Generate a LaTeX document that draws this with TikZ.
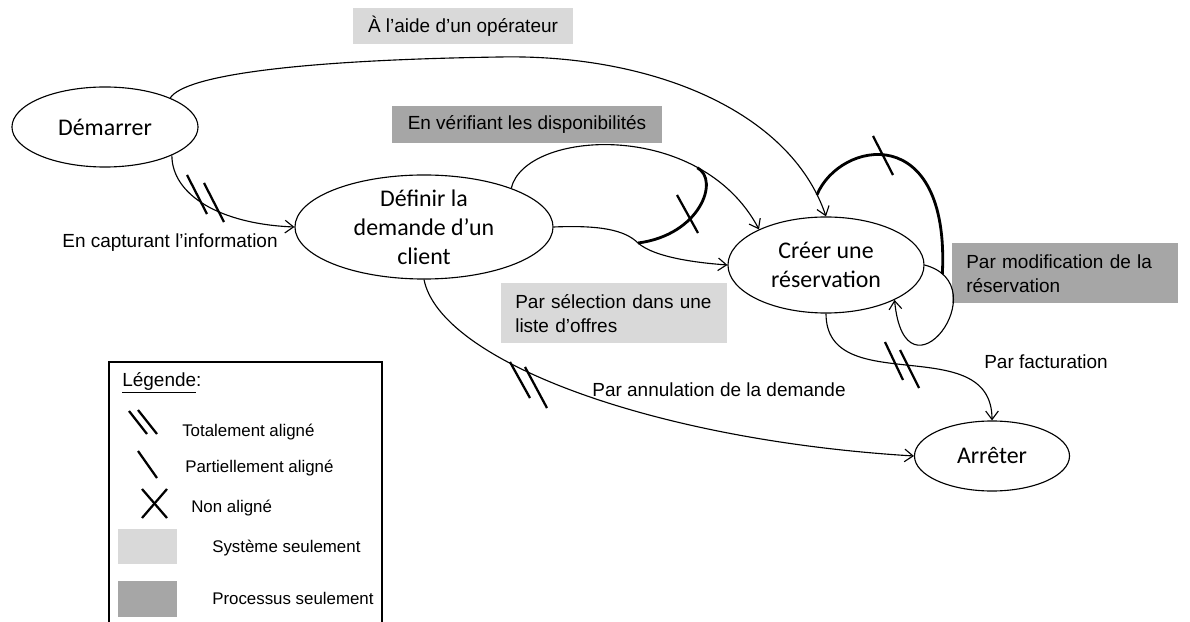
\documentclass[tikz,border=0pt]{standalone}
\usepackage{fontspec}
\setmainfont{Liberation Sans}
\newfontfamily\calibri{Carlito}
\usetikzlibrary{shapes.geometric,arrows.meta}
\definecolor{gsys}{HTML}{D9D9D9}
\definecolor{gproc}{HTML}{A6A6A6}

\begin{document}
\begin{tikzpicture}[x=0.025cm,y=-0.025cm,
        etat/.style={draw=black,ellipse,line width=0.8pt,inner sep=0pt,align=center,font=\calibri\fontsize{17}{20.5}\selectfont},
        sys/.style={fill=gsys,inner sep=0pt,font=\fontsize{13.5}{17}\selectfont},
        proc/.style={fill=gproc,inner sep=0pt,font=\fontsize{13.5}{17}\selectfont},
        lbl/.style={inner sep=0pt,font=\fontsize{13.5}{17}\selectfont},
        leg/.style={inner sep=0pt,anchor=west,font=\fontsize{12}{14}\selectfont},
        fl/.style={line width=0.8pt,-{Straight Barb[length=6pt,width=9pt]}},
        epais/.style={line width=2pt},
        marque/.style={line width=1.6pt}
      ]
      \useasboundingbox (0,0) rectangle (1190,622);
      \node[etat,minimum width=4.65cm,minimum height=2cm] (dem) at (105,127) {Démarrer};
      \node[etat,minimum width=6.45cm,minimum height=2.6cm,inner ysep=-4pt] (def) at (424,227) {Définir la\\demande d’un\\client};
      \node[etat,minimum width=4.9cm,minimum height=2.4cm] (cre) at (826,265) {Créer une\\réservation};
      \node[etat,minimum width=3.875cm,minimum height=1.75cm] (arr) at (992,456) {Arrêter};

      \node[sys,minimum width=5.5cm,minimum height=0.9cm] (aide) at (463,26) {À l’aide d’un opérateur};
      \node[proc,minimum width=6.75cm,minimum height=0.925cm] (verif) at (527,124.5) {En vérifiant les disponibilités};
      \node[sys,anchor=north west,text width=4.95cm,inner xsep=0.35cm,minimum height=1.5cm,align=left] (selec) at (501,283) {Par sélection dans une\\liste d’offres};
      \node[proc,anchor=north west,text width=4.95cm,inner xsep=0.35cm,minimum height=1.5cm,align=left] (modif) at (952,243) {Par modification de la\\réservation};
      \node[lbl] (capt) at (170,243) {En capturant l’information};
      \node[lbl] (annul) at (719,390) {Par annulation de la demande};
      \node[lbl] (fact) at (1046,362) {Par facturation};

      \draw[fl] (dem.24) .. controls (185,75) and (300,60) .. (500,57)
        .. controls (650,54) and (790,110) .. (cre.north) coordinate[pos=0.93] (hautj);
      \draw[fl] (dem.-23) .. controls (172,195) and (220,224) .. (def.west);
      \draw[marque] (187,175) -- (207,214);
      \draw[marque] (204,183) -- (224,222);

      \draw[fl] (def.24) .. controls (525,130) and (700,118) .. (cre.152) coordinate[pos=0.75] (dispj);
      \coordinate (coude) at (638,243);
      \draw[fl] (def.east) .. controls (600,225) and (625,230) .. (coude)
        .. controls (655,258) and (700,263) .. (cre.west);
      \draw[epais] (coude) .. controls (700,235) and (720,180) .. (dispj);
      \draw[marque] (677,195) -- (698,233);

      \draw[fl] (cre.east) .. controls (1000,285) and (905,410) .. (cre.-27) coordinate[pos=0.1] (bouclej);
      \draw[epais] (hautj) .. controls (840,140) and (950,120) .. (bouclej);
      \draw[marque] (873,136) -- (893,175);

      \draw[fl] (cre.south) .. controls (826,400) and (992,330) .. (arr.north);
      \draw[marque] (885,342) -- (903,380);
      \draw[marque] (900,350) -- (919,388);

      \draw[fl] (def.south) .. controls (440,360) and (650,440) .. (arr.west);
      \draw[marque] (510,362) -- (530,398);
      \draw[marque] (525,367) -- (547,408);

      \draw[line width=0.8pt] (109,362) rectangle (382,640);
      \node[leg,font=\fontsize{13.5}{16}\selectfont] (legt) at (122,383) {\underline{Légende}:};
      \draw[marque] (129,411) -- (147,434);
      \draw[marque] (138,410) -- (157,434);
      \node[leg] (ltot) at (182,432) {Totalement aligné};
      \draw[marque] (138,451) -- (157,478);
      \node[leg] (lpart) at (185,468) {Partiellement aligné};
      \draw[marque] (142,489) -- (167,518);
      \draw[marque] (167,489) -- (142,518);
      \node[leg] (lnon) at (191,508) {Non aligné};
      \fill[gsys] (118,529) rectangle (177,564);
      \node[leg] (lsys) at (212,548) {Système seulement};
      \fill[gproc] (118,581) rectangle (177,617);
      \node[leg] (lproc) at (212,598) {Processus seulement};
    \end{tikzpicture}
\end{document}
